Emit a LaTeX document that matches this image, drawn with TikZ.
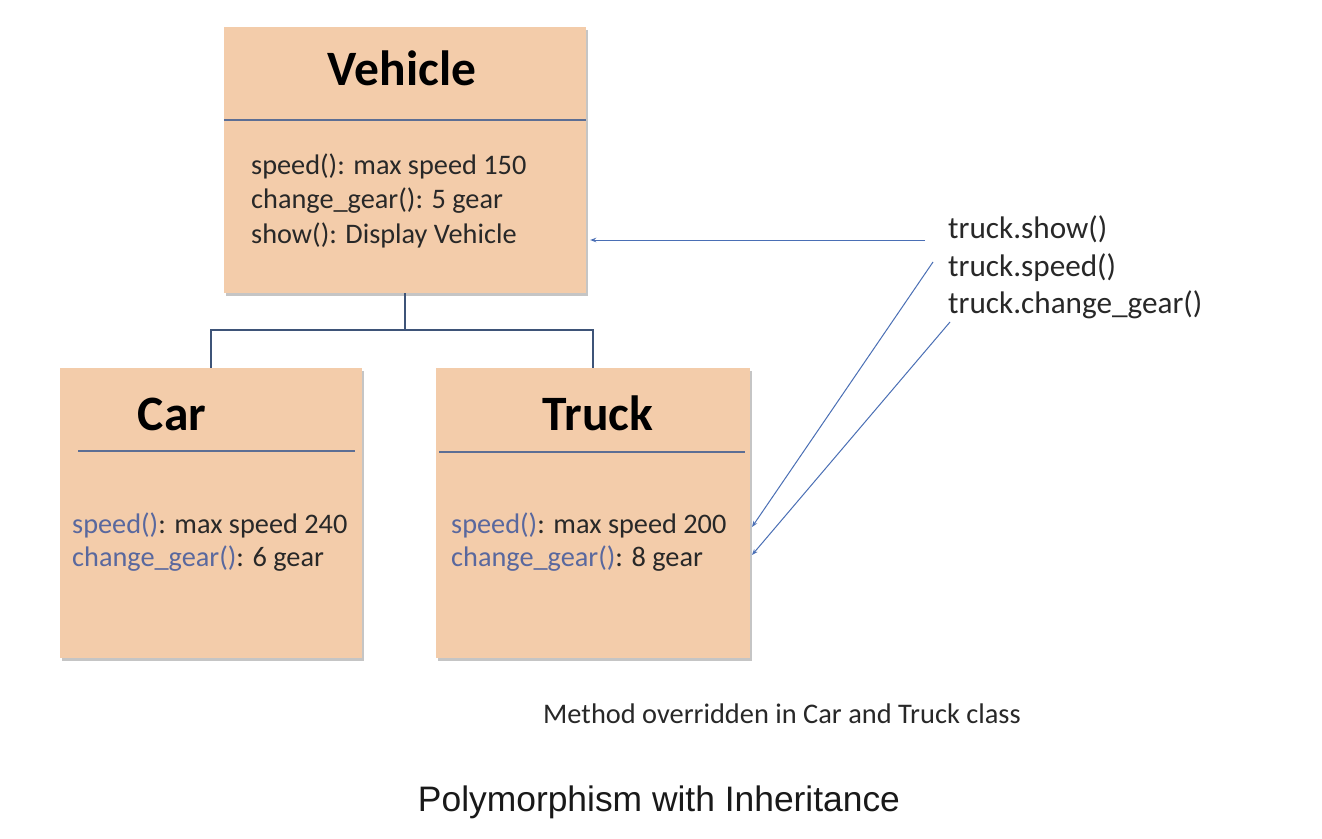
\documentclass[tikz,border=0pt]{standalone}
\usepackage{fontspec}
\setmainfont{Carlito}
\newfontfamily\capfont{Liberation Sans}
\usetikzlibrary{arrows.meta,shadows}
\definecolor{peach}{RGB}{243,204,170}
\definecolor{divline}{RGB}{92,110,148}
\definecolor{treeline}{RGB}{62,84,120}
\definecolor{arrblue}{RGB}{74,111,181}
\definecolor{methblue}{RGB}{89,104,158}
\definecolor{bodytxt}{RGB}{40,40,40}
\begin{document}
\begin{tikzpicture}[x=1pt,y=-1pt,
  classbox/.style={draw=none,fill=peach,rectangle,inner sep=0pt,
    drop shadow={shadow xshift=1.5pt,shadow yshift=-2.5pt,fill=black!50,opacity=.45}},
  ctitle/.style={anchor=base,inner sep=0pt,font=\fontsize{49.5}{56}\selectfont\bfseries,text=black},
  body/.style={anchor=base west,inner sep=0pt,font=\fontsize{28.3}{34}\selectfont,text=bodytxt},
  call/.style={anchor=base west,inner sep=0pt,font=\fontsize{31.2}{38}\selectfont,text=bodytxt},
  divider/.style={draw=divline,line width=1.6pt},
  tree/.style={draw=treeline,line width=1.3pt},
  arr/.style={draw=arrblue,line width=1pt,-{Stealth[length=6pt,width=4.5pt]}}]
\useasboundingbox (0,0) rectangle (1322,838);
\fill[white] (0,0) rectangle (1322,838);

% class boxes
\node[classbox,minimum width=362pt,minimum height=266pt] (veh) at (405,160) {};
\node[classbox,minimum width=302pt,minimum height=290pt] (car) at (211,513) {};
\node[classbox,minimum width=314pt,minimum height=290pt] (truck) at (593,513) {};

% titles
\node[ctitle] (vehT) at (402,85) {Vehicle};
\node[ctitle] (carT) at (172,430) {Car};
\node[ctitle] (truckT) at (598,430) {Truck};

% dividers
\draw[divider] (veh.west |- 0,120) -- (veh.east |- 0,120);
\draw[divider] (78,451) -- (355,451);
\draw[divider] (439,452) -- (745,452);

% vehicle body
\node[body] (v1) at (251,174) {speed(): max speed 150};
\node[body] (v2) at (251,208) {change\_gear(): 5 gear};
\node[body] (v3) at (251,243) {show(): Display Vehicle};

% car body
\node[body] (c1) at (72,533) {\textcolor{methblue}{speed()}: max speed 240};
\node[body] (c2) at (72,566) {\textcolor{methblue}{change\_gear()}: 6 gear};

% truck body
\node[body] (k1) at (451,533) {\textcolor{methblue}{speed()}: max speed 200};
\node[body] (k2) at (451,566) {\textcolor{methblue}{change\_gear()}: 8 gear};

% inheritance tree
\coordinate (junc) at (405,330);
\draw[tree] (veh.south) -- (junc);
\draw[tree] (junc) -| (car.north);
\draw[tree] (junc) -| (truck.north);

% calls
\node[call] (t1) at (948,238) {truck.show()};
\node[call] (t2) at (948,276) {truck.speed()};
\node[call] (t3) at (948,313) {truck.change\_gear()};

\coordinate (a1s) at (925,240);
\coordinate (a2s) at (933,262);
\coordinate (a2e) at (752,527);
\coordinate (a3s) at (950,322);
\coordinate (a3e) at (752,555);
\draw[arr,shorten >=4pt] (a1s) -- (a1s -| veh.east);
\draw[arr] (a2s) -- (a2e);
\draw[arr] (a3s) -- (a3e);

% captions
\node[anchor=base west,inner sep=0pt,font=\fontsize{28.4}{32}\selectfont,text=bodytxt] (note) at (543,723) {Method overridden in Car and Truck class};
\node[anchor=base,inner sep=0pt,font=\capfont\fontsize{35.4}{40}\selectfont,text=black!90] (title) at (659,811) {Polymorphism with Inheritance};
\end{tikzpicture}
\end{document}
